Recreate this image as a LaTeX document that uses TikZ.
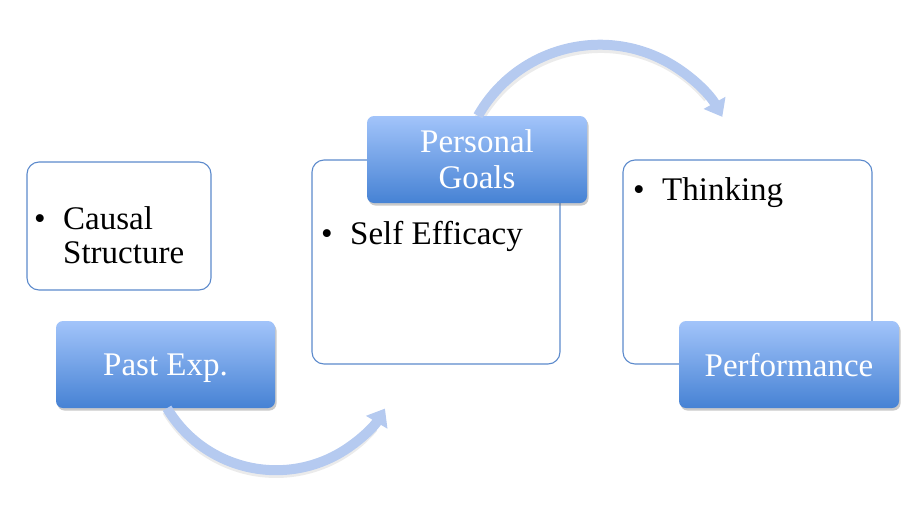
\documentclass[tikz,border=0pt]{standalone}
\usepackage{fontspec}
\setmainfont{Liberation Serif}
\usetikzlibrary{arrows.meta,shadows}
\definecolor{bordc}{HTML}{5C8ACC}
\definecolor{topc}{HTML}{A2C4FA}
\definecolor{botc}{HTML}{4682D4}
\definecolor{arrc}{HTML}{B5CAF0}
\tikzset{
  listbox/.style={draw=bordc, line width=1.1pt, rounded corners=12pt, fill=white, inner sep=0pt},
  headbox/.style={rounded corners=7pt, top color=topc, bottom color=botc, inner sep=0pt,
     drop shadow={shadow xshift=1.5pt, shadow yshift=-2.5pt, opacity=0.35, fill=black!60},
     text=white, font=\fontsize{33}{36}\selectfont, align=center, text depth=0pt},
  itemtxt/.style={anchor=base west, inner sep=0pt, font=\fontsize{33}{36}\selectfont},
  bigarrow/.style={arrc, line width=10pt, -{Triangle[length=16pt,width=24pt]}},
  arrshadow/.style={black, opacity=0.08, line width=10pt}
}
\begin{document}
\begin{tikzpicture}[x=1pt,y=-1pt]
\useasboundingbox (0,0) rectangle (907,525);
% list boxes
\node[listbox, minimum width=184pt, minimum height=128pt] (b1) at (119,226) {};
\node[listbox, minimum width=248pt, minimum height=204pt] (b2) at (436,262) {};
\node[listbox, minimum width=249pt, minimum height=204pt] (b3) at (747.5,262) {};
% items
\node[itemtxt] (d1) at (34,229) {\textbullet};
\node[itemtxt] (t1a) at (63,229) {Causal};
\node[itemtxt] (t1b) at (63,263) {Structure};
\node[itemtxt] (d2) at (321,244) {\textbullet};
\node[itemtxt] (t2) at (350,244) {Self Efficacy};
\node[itemtxt] (d3) at (633,200) {\textbullet};
\node[itemtxt] (t3) at (662,200) {Thinking};
% arrow shadows
\draw[arrshadow] (167,411) arc[start angle=149.2, end angle=40, radius=127];
\draw[arrshadow] (479,119) arc[start angle=209.5, end angle=320, radius=140];
% header boxes
\node[headbox, minimum width=219pt, minimum height=87pt] (past) at (165.5,364.5) {Past Exp.};
\node[headbox, minimum width=220pt, minimum height=87pt] (goals) at (477,159.5) {Personal\\Goals};
\node[headbox, minimum width=220pt, minimum height=87pt] (perf) at (789,364.5) {Performance};
\draw[bigarrow] (past.south) ++(1.5,0) arc[start angle=149.2, end angle=31, radius=127];
\draw[bigarrow] (goals.north) ++(1,0) arc[start angle=209.5, end angle=331, radius=140];
\end{tikzpicture}
\end{document}
